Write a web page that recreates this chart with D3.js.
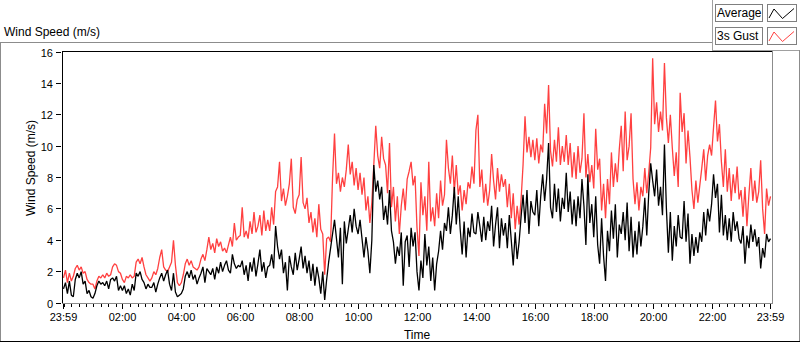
<!DOCTYPE html>
<html>
<head>
<meta charset="utf-8">
<script src="https://cdn.jsdelivr.net/npm/d3@7"></script>
<style>
body { margin: 0; background: #fff; }
svg { display: block; font-family: "Liberation Sans", Arial, sans-serif; }
</style>
</head>
<body>
<script>
// one reading every 4 minutes, first one at 23:59 the day before
var STEP_MIN = 4;

// 3s gust, m/s (15 readings per hour, last value = 23:59)
var gustSpeed = [
  1.6, 2.1, 1.3, 1.9, 1.4, 1.7, 2.2, 2.4, 2.1, 2.3, 1.9, 2.0, 1.5, 1.3, 1.2,
  1.2, 0.9, 1.4, 1.7, 1.6, 1.8, 1.6, 1.9, 1.7, 1.8, 2.3, 2.5, 2.4, 2.0, 1.9,
  1.5, 1.3, 1.7, 1.6, 1.8, 1.6, 1.7, 2.6, 2.8, 2.5, 2.9, 2.3, 1.8, 1.6, 1.4,
  1.6, 2.0, 1.8, 2.2, 2.9, 3.4, 2.3, 2.1, 2.0, 2.3, 2.6, 4.0, 2.4, 1.3, 1.1,
  1.3, 1.8, 2.5, 2.8, 2.4, 2.7, 2.3, 2.2, 2.1, 2.3, 2.8, 3.1, 2.7, 3.4, 4.2,
  3.4, 3.8, 3.2, 4.1, 3.6, 3.9, 3.3, 3.5, 3.2, 3.7, 4.2, 3.6, 5.1, 4.0, 4.2,
  4.3, 6.1, 4.2, 4.6, 4.1, 5.2, 4.4, 5.8, 4.5, 4.9, 5.6, 4.3, 5.9, 4.6, 5.3,
  4.6, 6.1, 5.0, 7.1, 7.4, 9.0, 6.5, 7.3, 6.2, 6.8, 7.6, 9.2, 6.1, 5.7, 6.6,
  6.9, 9.3, 6.4, 6.0, 6.7, 5.1, 5.8, 4.5, 5.4, 4.2, 6.3, 4.7, 4.4, 1.8, 4.1,
  4.2, 3.9, 8.0, 10.8, 7.6, 8.3, 7.1, 8.0, 7.4, 8.5, 10.1, 8.2, 9.0, 7.5, 8.6,
  7.2, 8.3, 6.9, 8.0, 5.9, 6.8, 5.1, 6.4, 8.8, 11.3, 9.4, 8.6, 10.6, 9.2, 8.8,
  7.0, 10.2, 6.1, 7.4, 5.2, 6.8, 4.4, 6.2, 7.3, 5.9, 7.9, 8.4, 9.0, 7.5, 8.1,
  4.8, 3.0, 7.7, 5.6, 6.8, 4.6, 9.0, 5.2, 6.1, 4.9, 7.0, 5.4, 7.8, 6.2, 6.9,
  10.4, 8.6, 7.6, 9.4, 7.1, 8.8, 6.9, 7.5, 5.9, 7.2, 6.3, 7.7, 7.3, 8.7, 7.6,
  11.0, 12.0, 7.4, 8.5, 6.4, 7.6, 6.2, 7.2, 9.5, 7.8, 6.6, 8.6, 7.1, 8.2, 7.4,
  7.9, 6.1, 7.6, 5.4, 7.0, 4.7, 6.2, 5.0, 6.6, 8.8, 11.9, 9.6, 10.6, 9.3, 10.4,
  9.1, 10.5, 8.9, 10.1, 9.6, 12.7, 10.8, 13.9, 9.7, 8.7, 10.4, 9.0, 11.2, 8.8, 10.0,
  9.0, 10.7, 8.8, 10.2, 8.0, 9.6, 7.9, 10.0, 8.3, 9.2, 12.1, 8.0, 9.5, 7.7, 8.8,
  7.3, 11.1, 8.5, 9.2, 5.9, 7.6, 5.4, 7.9, 6.3, 9.6, 7.4, 8.9, 7.7, 9.8, 11.3,
  8.4, 12.2, 9.1, 10.0, 12.1, 7.9, 6.3, 7.7, 5.9, 7.4, 6.8, 8.6, 7.0, 8.3, 9.9,
  15.6, 11.4, 12.8, 10.9, 12.2, 11.0, 15.3, 11.8, 10.2, 12.0, 9.9, 8.1, 9.6, 7.4, 13.4,
  10.9, 12.1, 8.9, 11.0, 9.3, 7.2, 6.0, 7.8, 6.4, 7.5, 8.6, 9.8, 7.8, 9.4, 10.1,
  9.4, 11.2, 12.9, 10.3, 11.4, 9.0, 7.4, 9.8, 7.1, 8.6, 6.5, 8.2, 7.0, 8.7, 6.6,
  7.2, 5.5, 7.4, 4.9, 6.9, 8.6, 6.5, 7.8, 6.4, 7.1, 9.1, 6.0, 4.4, 7.3, 6.2,
  6.8
];

// average, m/s
var avgSpeed = [
  0.9, 1.3, 0.6, 1.4, 0.5, 0.4, 1.5, 1.9, 1.6, 2.0, 1.2, 1.4, 0.6, 0.8, 0.4,
  0.3, 0.6, 1.1, 1.4, 1.2, 1.3, 1.1, 1.4, 0.9, 1.5, 1.6, 1.4, 1.7, 0.8, 1.1,
  0.8, 1.1, 0.6, 0.9, 0.5, 1.2, 0.8, 1.9, 1.7, 2.0, 1.5, 1.3, 0.9, 1.2, 1.0,
  1.0, 1.3, 0.7, 1.2, 1.6, 1.9, 1.4, 1.8, 2.1, 1.2, 0.8, 1.9, 0.7, 0.4, 0.5,
  0.6, 0.9, 1.7, 2.0, 1.6, 2.1, 1.5, 1.8, 1.2, 1.6, 1.9, 2.3, 1.3, 2.2, 2.0,
  1.8, 2.2, 1.5, 2.3, 1.9, 2.6, 2.0, 2.4, 2.7, 2.1, 1.9, 3.1, 2.5, 2.2, 2.4,
  2.3, 2.7, 1.8, 2.4, 1.4, 2.6, 2.0, 2.9, 1.7, 2.5, 3.4, 2.0, 2.6, 1.6, 2.3,
  2.4, 3.1, 2.2, 4.9, 3.6, 2.8, 3.4, 1.9, 2.6, 0.8, 3.0, 2.3, 1.8, 3.2, 2.1,
  2.8, 3.6, 2.2, 3.0, 1.9, 2.7, 1.4, 2.5, 1.1, 2.3, 1.6, 0.6, 2.0, 0.2, 1.5,
  2.6, 3.5, 4.4, 5.3, 4.1, 2.9, 4.8, 1.2, 5.2, 3.8, 4.7, 5.6, 4.5, 6.0, 4.9,
  4.4, 5.3, 4.1, 2.9, 4.2, 3.3, 1.9, 4.0, 8.8, 7.1, 7.8, 6.6, 7.4, 5.3, 6.2,
  5.0, 7.2, 4.6, 3.9, 2.5, 3.6, 3.0, 4.5, 1.1, 3.9, 4.3, 2.3, 4.8, 3.6, 4.5,
  2.0, 0.8, 2.7, 1.6, 4.4, 2.4, 3.6, 1.4, 2.9, 0.8, 2.5, 3.3, 4.6, 3.4, 5.1,
  4.6, 6.1, 4.4, 5.6, 7.4, 5.0, 6.8, 4.7, 3.1, 5.2, 2.9, 4.8, 4.2, 5.7, 4.5,
  4.4, 5.8, 4.9, 3.9, 5.5, 4.0, 5.2, 4.6, 6.2, 3.6, 5.0, 6.1, 3.5, 5.4, 4.3,
  5.1, 3.5, 5.6, 4.0, 2.4, 4.5, 2.8, 3.9, 5.5, 6.9, 5.1, 7.2, 4.4, 6.5, 5.8,
  5.6, 7.2, 4.9, 6.8, 8.2, 6.5, 7.9, 10.2, 6.1, 5.4, 7.6, 5.8, 7.3, 5.2, 6.7,
  6.0, 8.3, 5.8, 7.1, 5.0, 6.6, 4.9, 6.8, 5.4, 7.9, 6.2, 3.7, 8.2, 5.1, 6.3,
  4.2, 6.8, 3.7, 2.5, 5.4, 3.0, 1.4, 4.6, 3.3, 5.9, 4.1, 6.3, 2.9, 5.0, 4.4,
  5.8, 4.0, 6.4, 3.3, 5.5, 2.9, 4.6, 3.1, 5.2, 3.6, 4.9, 6.7, 4.3, 7.0, 8.9,
  7.8, 6.8, 8.5, 6.2, 7.4, 5.6, 10.1, 6.0, 3.2, 5.8, 2.7, 4.9, 3.6, 5.6, 4.2,
  4.1, 6.5, 3.9, 5.7, 2.5, 4.4, 3.0, 4.2, 3.2, 4.5, 3.9, 5.8, 4.3, 6.0, 5.2,
  6.3, 8.2, 6.7, 7.6, 4.5, 6.9, 4.3, 5.6, 4.0, 5.4, 3.9, 5.8, 4.6, 5.2, 4.1,
  3.8, 4.9, 2.5, 4.3, 3.5, 5.0, 3.9, 4.7, 3.6, 4.2, 2.2, 3.5, 2.9, 4.4, 3.9,
  4.1
];

var yTicks = [0, 2, 4, 6, 8, 10, 12, 14, 16];
var timeLabels = ["23:59", "02:00", "04:00", "06:00", "08:00", "10:00", "12:00",
                  "14:00", "16:00", "18:00", "20:00", "22:00", "23:59"];
var seriesNames = ["Average", "3s Gust"];
var seriesColors = ["#000000", "#ff4040"];

var DAY_MIN = 1440;
var START_MIN = 23 * 60 + 59;

var x = d3.scaleLinear().domain([0, DAY_MIN]).range([63.5, 770.5]);
var y = d3.scaleLinear().domain([0, 16]).range([303, 52]);

var svg = d3.select("body").append("svg")
    .attr("width", 800)
    .attr("height", 342);

function hline(x1, x2, yy, col) {
    svg.append("line").attr("x1", x1).attr("x2", x2).attr("y1", yy).attr("y2", yy)
        .attr("stroke", col).attr("shape-rendering", "crispEdges");
}
function vline(xx, y1, y2, col) {
    svg.append("line").attr("x1", xx).attr("x2", xx).attr("y1", y1).attr("y2", y2)
        .attr("stroke", col).attr("shape-rendering", "crispEdges");
}

// outer frame of the chart control
hline(0, 712, 42.5, "#8c8c8c");
vline(0.5, 42, 342, "#8c8c8c");
vline(712.5, 0, 50, "#a0a0a0");
hline(712, 800, 50.5, "#a0a0a0");
vline(799.5, 50, 342, "#8c8c8c");
hline(0, 800, 341.5, "#000");

// label
svg.append("text").attr("x", 4).attr("y", 36)
    .style("font-size", "12px").text("Wind Speed (m/s)");

// plot lines
svg.append("clipPath").attr("id", "plotclip")
    .append("rect").attr("x", 63).attr("y", 52).attr("width", 709).attr("height", 251);

var line = d3.line()
    .x(function(d, i) { return x(i * STEP_MIN); })
    .y(function(d) { return y(d); });

var plot = svg.append("g").attr("clip-path", "url(#plotclip)");
[gustSpeed, avgSpeed].forEach(function(vals, k) {
    plot.append("path")
        .datum(vals)
        .attr("d", line)
        .attr("fill", "none")
        .attr("stroke", k === 0 ? seriesColors[1] : seriesColors[0])
        .attr("stroke-width", 1.3)
        .attr("stroke-linejoin", "bevel");
});

// plot frame: dark top/left, grey right/bottom
hline(62, 773, 51.5, "#000");
vline(62.5, 51, 304, "#000");
vline(772.5, 51, 304, "#8c8c8c");
hline(62, 773, 303.5, "#8c8c8c");

// y axis
yTicks.forEach(function(v) {
    var yy = Math.floor(y(v)) + 0.5;
    hline(56, 61, yy, "#000");
    svg.append("text").attr("x", 53).attr("y", yy + 4)
        .attr("text-anchor", "end").style("font-size", "11px").text(v);
});
svg.append("text")
    .attr("transform", "translate(35,168) rotate(-90)")
    .attr("text-anchor", "middle").style("font-size", "12px")
    .text("Wind Speed (m/s)");

// x axis: minor ticks every quarter hour, labelled ones every 2 h
function labelMin(s, i) {
    if (i === timeLabels.length - 1) return DAY_MIN;
    var p = s.split(":");
    return ((+p[0] * 60 + +p[1]) - START_MIN + DAY_MIN) % DAY_MIN;
}
var majorMins = timeLabels.map(labelMin);
for (var m = 1; m < DAY_MIN; m += 15) {
    if (majorMins.indexOf(m) >= 0) continue;
    vline(Math.round(x(m)) + 0.5, 304, 307, "#000");
}
timeLabels.forEach(function(s, i) {
    var xx = Math.floor(x(majorMins[i])) + 0.5;
    vline(xx, 304, 309, "#000");
    svg.append("text").attr("x", xx).attr("y", 321)
        .attr("text-anchor", "middle").style("font-size", "11px").text(s);
});
svg.append("text").attr("x", 417).attr("y", 339)
    .attr("text-anchor", "middle").style("font-size", "12px").text("Time");

// legend
seriesNames.forEach(function(name, i) {
    var top = 4 + i * 23;
    svg.append("rect").attr("x", 715.5).attr("y", top + 0.5).attr("width", 47).attr("height", 17)
        .attr("fill", "#fff").attr("stroke", "#7f7f7f").attr("shape-rendering", "crispEdges");
    svg.append("text").attr("x", 717).attr("y", top + 12.5)
        .style("font-size", "12px").text(name);
    svg.append("rect").attr("x", 767.5).attr("y", top + 0.5).attr("width", 29).attr("height", 17)
        .attr("fill", "#fff").attr("stroke", "#7f7f7f").attr("shape-rendering", "crispEdges");
    var zig = [[2, 14], [7, 5], [15.5, 14.5], [27, 4.5]];
    svg.append("path")
        .attr("d", d3.line()(zig.map(function(p) { return [767 + p[0], top + p[1]]; })))
        .attr("fill", "none").attr("stroke", seriesColors[i]).attr("stroke-width", 1);
});
</script>
</body>
</html>
